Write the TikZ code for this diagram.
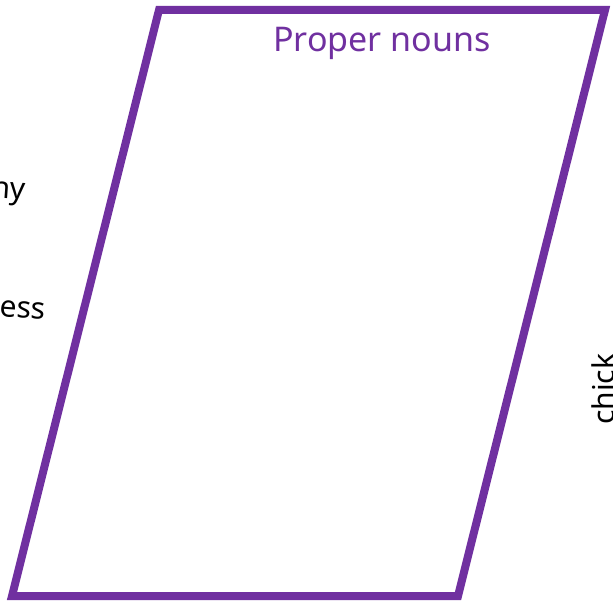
\documentclass[tikz,border=0pt]{standalone}
\usepackage{fontspec}
\setmainfont{Noto Sans}
\definecolor{nounpurple}{HTML}{7030A0}
\tikzset{
  side word/.style={font=\fontsize{30}{33}\selectfont, text=black, inner sep=0pt},
}
\begin{document}
\begin{tikzpicture}[x=1pt,y=1pt]
\useasboundingbox (0,0) rectangle (613,600);
% corners of the box
\coordinate (bl) at (12,4);
\coordinate (br) at (458,4);
\coordinate (tr) at (605,590);
\coordinate (tl) at (159,590);
\draw[nounpurple, line width=8pt, line join=miter] (bl) -- (br) -- (tr) -- (tl) -- cycle;
\node (title) at (382,557) [font=\fontsize{34}{37}\selectfont, text=nounpurple] {Proper nouns};
% words cut off at the edges
\node (many) [side word, anchor=base east, rotate=-4] at (25,400) {ny};
\node (less) [side word, anchor=base east, rotate=-4] at (45,280) {ess};
\node (chick) [side word, anchor=base west, rotate=90] at (614,175) {chick};
\end{tikzpicture}
\end{document}
